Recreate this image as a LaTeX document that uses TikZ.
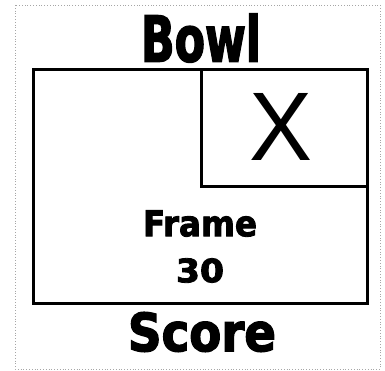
\documentclass[tikz,border=0pt]{standalone}
\usepackage{fontspec}
\setmainfont{Liberation Sans}
\newfontfamily\impfont[FakeBold=2.5]{DejaVu Sans Condensed Bold}
\begin{document}
\begin{tikzpicture}[x=1pt,y=-1pt,
  box/.style={draw=black,line width=3pt},
  txt/.style={inner sep=0pt,outer sep=0pt,anchor=center}]
\useasboundingbox (0,0) rectangle (385,371);
\draw[gray!70,dotted,line width=0.8pt] (15,5) rectangle (380,369);
\coordinate (tl) at (33,70);
\coordinate (br) at (367,303);
\coordinate (it) at (201,70);
\coordinate (ib) at (201,187);
\coordinate (ir) at (367,187);
\draw[box] (tl) rectangle (br);
\draw[box] (it) -- (ib) -- (ir);
\node[txt] (bowl) at (201,38) {\resizebox{120pt}{48pt}{\impfont Bowl}};
\node[txt] (score) at (202,332) {\resizebox{148pt}{39pt}{\impfont Score}};
\node[txt] (frame) at (200,223.5) {\resizebox{114pt}{26pt}{\impfont Frame}};
\node[txt] (num) at (200,270.5) {\resizebox{48pt}{24pt}{\impfont 30}};
\node[txt] (x) at (281.5,126.5) {\resizebox{63pt}{67pt}{X}};
\end{tikzpicture}
\end{document}
